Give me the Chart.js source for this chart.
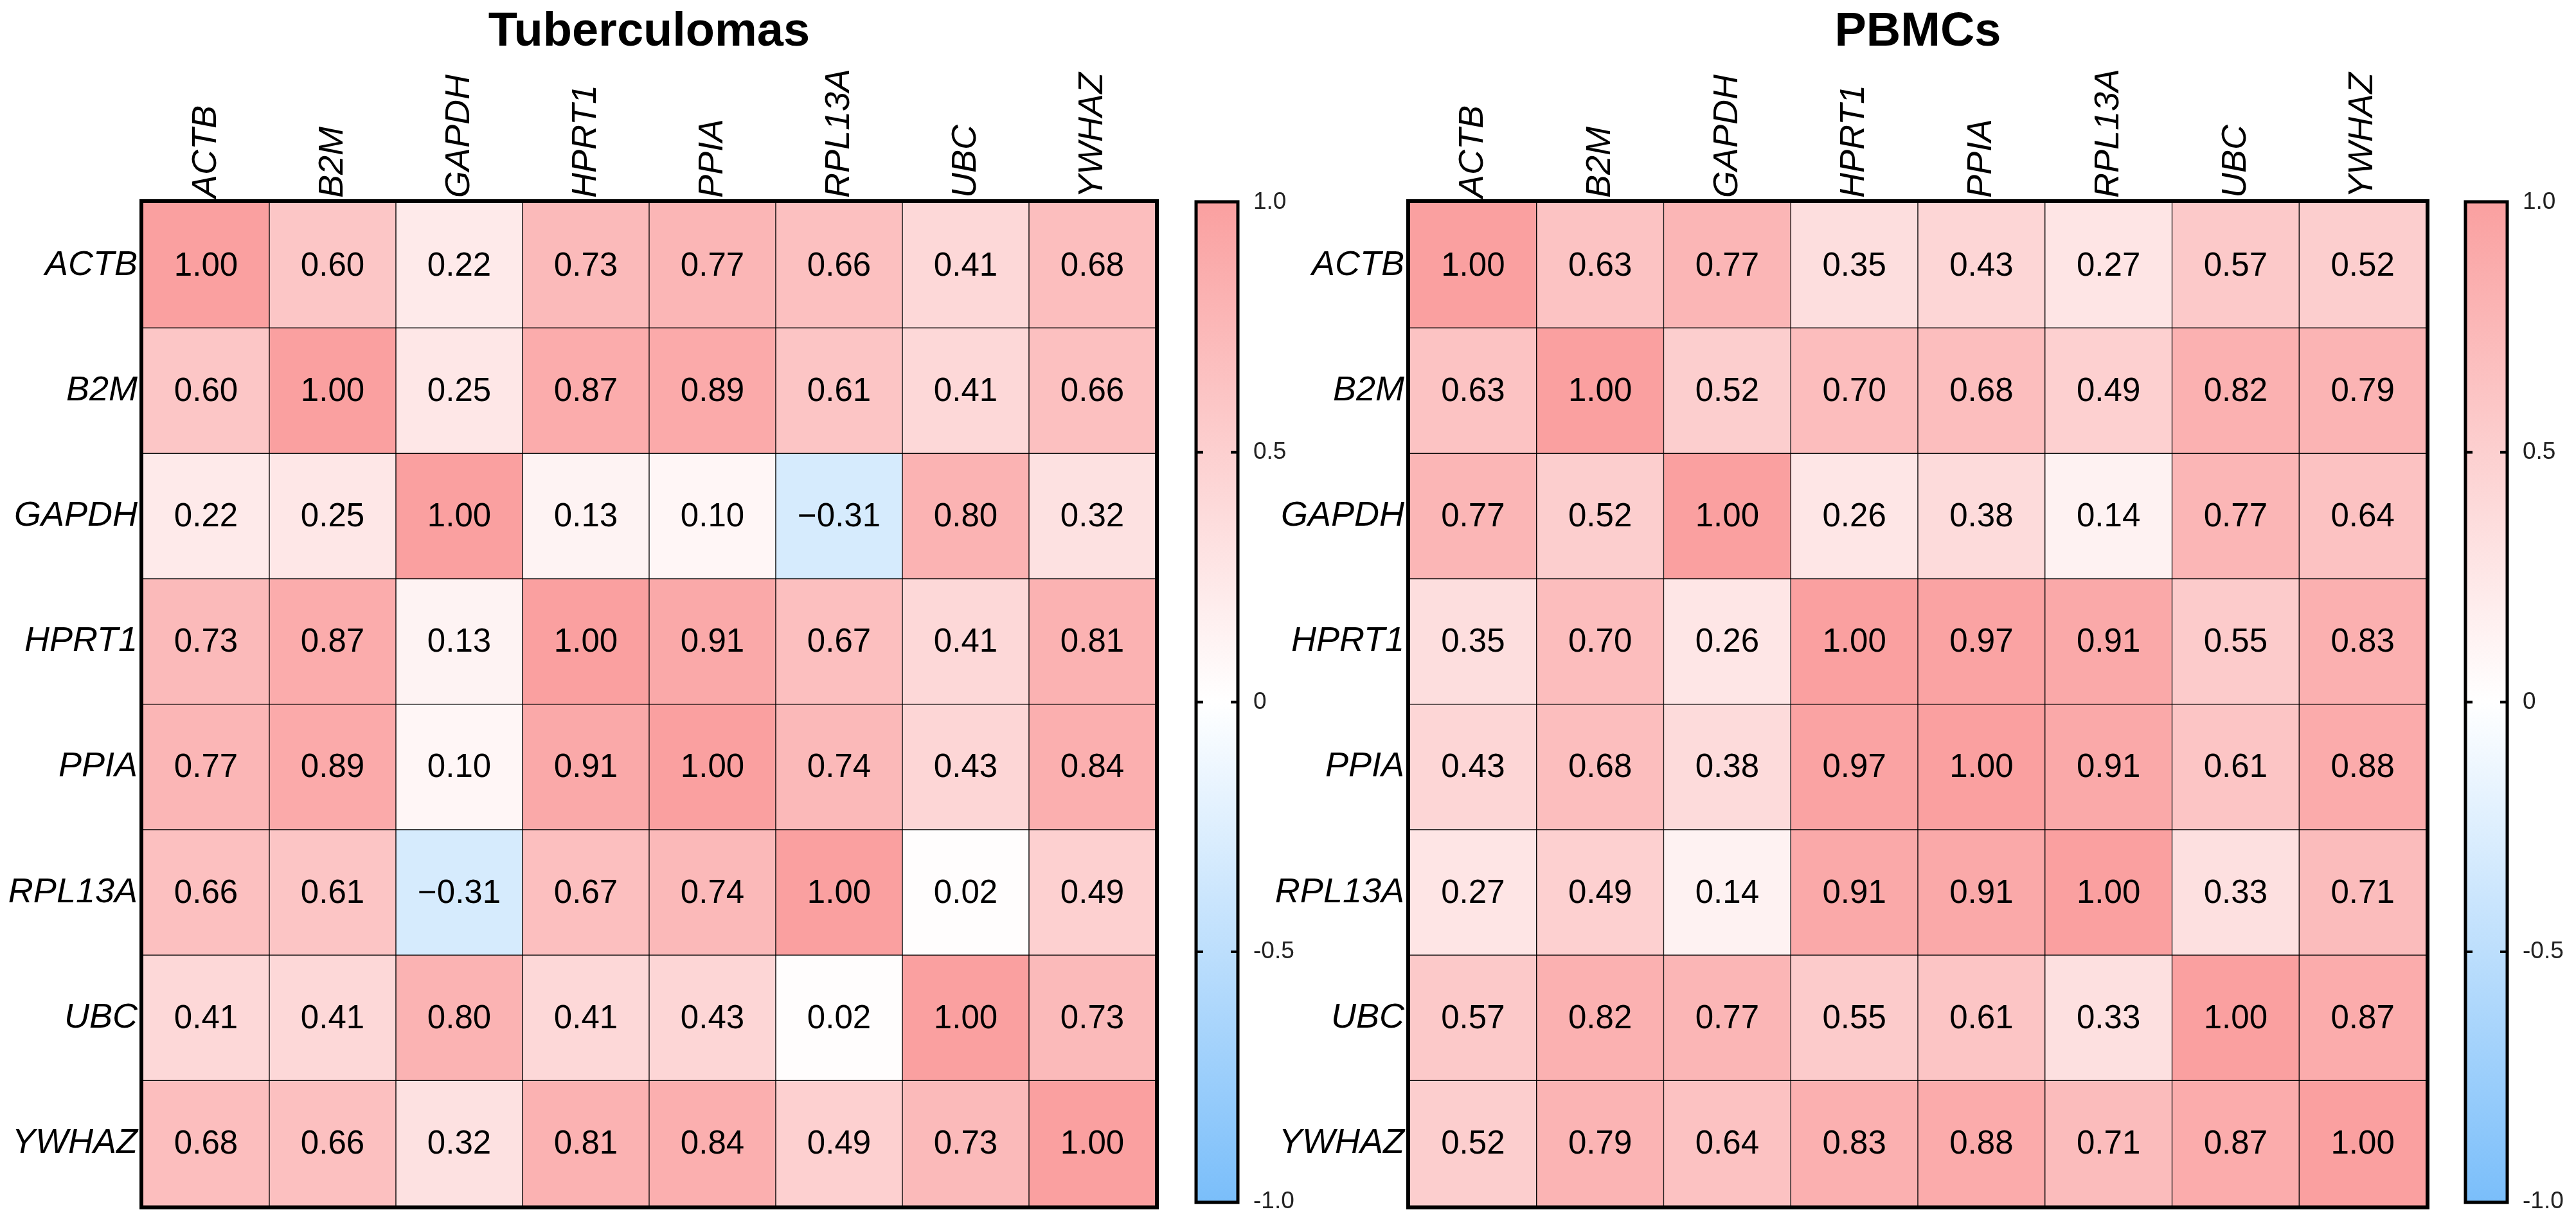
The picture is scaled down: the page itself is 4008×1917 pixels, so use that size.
<!DOCTYPE html>
<html>
<head>
<meta charset="utf-8">
<script src="https://cdn.jsdelivr.net/npm/chart.js@4.4.0/dist/chart.umd.min.js"></script>
<style>
html, body { margin: 0; padding: 0; background: #fff; width: 4008px; height: 1917px; overflow: hidden; }
.box { position: absolute; top: 0; height: 1917px; }
</style>
</head>
<body>
<div class="box" style="left:0;width:2020px"><canvas id="hm1"></canvas></div>
<div class="box" style="left:1971px;width:2026px"><canvas id="hm2"></canvas></div>
<div class="box" style="left:1857px;width:200px"><canvas id="cb1"></canvas></div>
<div class="box" style="left:3832px;width:176px"><canvas id="cb2"></canvas></div>
<script>
const genes = ['ACTB', 'B2M', 'GAPDH', 'HPRT1', 'PPIA', 'RPL13A', 'UBC', 'YWHAZ'];

const tuberculomaValues = [
    [1.00, 0.60, 0.22, 0.73, 0.77, 0.66, 0.41, 0.68],
    [0.60, 1.00, 0.25, 0.87, 0.89, 0.61, 0.41, 0.66],
    [0.22, 0.25, 1.00, 0.13, 0.10, -0.31, 0.80, 0.32],
    [0.73, 0.87, 0.13, 1.00, 0.91, 0.67, 0.41, 0.81],
    [0.77, 0.89, 0.10, 0.91, 1.00, 0.74, 0.43, 0.84],
    [0.66, 0.61, -0.31, 0.67, 0.74, 1.00, 0.02, 0.49],
    [0.41, 0.41, 0.80, 0.41, 0.43, 0.02, 1.00, 0.73],
    [0.68, 0.66, 0.32, 0.81, 0.84, 0.49, 0.73, 1.00]
];

const pbmcValues = [
    [1.00, 0.63, 0.77, 0.35, 0.43, 0.27, 0.57, 0.52],
    [0.63, 1.00, 0.52, 0.70, 0.68, 0.49, 0.82, 0.79],
    [0.77, 0.52, 1.00, 0.26, 0.38, 0.14, 0.77, 0.64],
    [0.35, 0.70, 0.26, 1.00, 0.97, 0.91, 0.55, 0.83],
    [0.43, 0.68, 0.38, 0.97, 1.00, 0.91, 0.61, 0.88],
    [0.27, 0.49, 0.14, 0.91, 0.91, 1.00, 0.33, 0.71],
    [0.57, 0.82, 0.77, 0.55, 0.61, 0.33, 1.00, 0.87],
    [0.52, 0.79, 0.64, 0.83, 0.88, 0.71, 0.87, 1.00]
];

const colorbarTicks = [-1, -0.5, 0, 0.5, 1];

const FONT = '"Liberation Sans", Arial, Helvetica, sans-serif';
const RED = [250, 160, 160];
const BLUE = [122, 190, 250];

function cellColor(v) {
    const end = v >= 0 ? RED : BLUE;
    const t = Math.min(1, Math.abs(v));
    const c = end.map(e => Math.round(255 + (e - 255) * t));
    return `rgb(${c[0]},${c[1]},${c[2]})`;
}

function fmt(v) {
    return v < 0 ? '\u2212' + Math.abs(v).toFixed(2) : v.toFixed(2);
}

// values in the cells + thick frame
const cellText = {
    id: 'cellText',
    afterDatasetsDraw(chart) {
        const ctx = chart.ctx;
        ctx.save();
        ctx.font = `51px ${FONT}`;
        ctx.fillStyle = '#000';
        ctx.textAlign = 'center';
        ctx.textBaseline = 'middle';
        chart.data.datasets.forEach((ds, i) => {
            chart.getDatasetMeta(i).data.forEach((el, j) => {
                const p = el.getCenterPoint();
                ctx.fillText(fmt(ds.values[j]), p.x, p.y + 2);
            });
        });
        const a = chart.chartArea;
        ctx.lineWidth = 6;
        ctx.strokeStyle = '#000';
        ctx.strokeRect(a.left - 2, a.top - 2, a.right - a.left + 4, a.bottom - a.top + 4);
        ctx.restore();
    }
};

function heatmap(id, title, values) {
    const labelFont = { family: FONT, size: 54, style: 'italic' };
    new Chart(document.getElementById(id), {
        type: 'bar',
        data: {
            labels: genes,
            datasets: values.map((row, r) => ({
                data: row.map(() => [r, r + 1]),
                values: row,
                backgroundColor: row.map(cellColor),
                borderColor: '#000',
                borderWidth: 1,
                borderSkipped: false,
                grouped: false,
                barPercentage: 1,
                categoryPercentage: 1
            }))
        },
        options: {
            responsive: true,
            maintainAspectRatio: false,
            animation: false,
            devicePixelRatio: 1,
            layout: { padding: { top: 0, bottom: 27, left: 0, right: 0 } },
            plugins: {
                legend: { display: false },
                tooltip: { enabled: false },
                title: {
                    display: true,
                    text: title,
                    color: '#000',
                    font: { family: FONT, size: 74, weight: 'bold' },
                    padding: { top: 6, bottom: 0 }
                }
            },
            scales: {
                x: {
                    position: 'top',
                    grid: { display: false, drawTicks: false },
                    border: { display: false },
                    ticks: {
                        font: labelFont, color: '#000', minRotation: 90, maxRotation: 90,
                        padding: 7, labelOffset: 65, autoSkip: false
                    },
                    afterFit(s) { s.height = 315 - 6 - 74 * 1.2; }
                },
                y: {
                    type: 'linear',
                    min: 0,
                    max: 8,
                    reverse: true,
                    grid: { display: false, drawTicks: false },
                    border: { display: false },
                    afterBuildTicks(s) { s.ticks = genes.map((g, i) => ({ value: i + 0.5 })); },
                    ticks: { font: labelFont, color: '#000', padding: 8, autoSkip: false, callback: v => genes[Math.floor(v)] },
                    afterFit(s) { s.width = 222; }
                },
                // empty right axis so the title centres over the matrix
                yRight: {
                    type: 'linear',
                    position: 'right',
                    grid: { display: false, drawTicks: false },
                    border: { display: false },
                    ticks: { display: false },
                    afterFit(s) { s.width = 222; }
                }
            }
        },
        plugins: [cellText]
    });
}

const barFrame = {
    id: 'barFrame',
    afterDatasetsDraw(chart) {
        const ctx = chart.ctx, a = chart.chartArea, ys = chart.scales.y;
        ctx.save();
        ctx.strokeStyle = '#000';
        ctx.lineWidth = 4;
        [0.5, 0, -0.5].forEach(v => {
            const y = ys.getPixelForValue(v);
            ctx.beginPath();
            ctx.moveTo(a.left, y); ctx.lineTo(a.left + 10, y);
            ctx.moveTo(a.right - 10, y); ctx.lineTo(a.right, y);
            ctx.stroke();
        });
        ctx.lineWidth = 5;
        ctx.strokeRect(a.left - 1, a.top - 1, a.right - a.left + 2, a.bottom - a.top + 2);
        ctx.restore();
    }
};

function colorbar(id, boxWidth) {
    new Chart(document.getElementById(id), {
        type: 'bar',
        data: {
            labels: [''],
            datasets: [{
                data: [[colorbarTicks[0], colorbarTicks[colorbarTicks.length - 1]]],
                backgroundColor: c => {
                    const a = c.chart.chartArea;
                    if (!a) return '#fff';
                    const g = c.chart.ctx.createLinearGradient(0, a.top, 0, a.bottom);
                    g.addColorStop(0, cellColor(1));
                    g.addColorStop(0.5, '#fff');
                    g.addColorStop(1, cellColor(-1));
                    return g;
                },
                borderWidth: 0,
                barPercentage: 1,
                categoryPercentage: 1
            }]
        },
        options: {
            responsive: true,
            maintainAspectRatio: false,
            animation: false,
            devicePixelRatio: 1,
            layout: { padding: { top: 315, bottom: 27, left: 5, right: 0 } },
            plugins: { legend: { display: false }, tooltip: { enabled: false } },
            scales: {
                x: { display: false },
                y: {
                    position: 'right',
                    min: -1,
                    max: 1,
                    grid: { display: false, drawTicks: false },
                    border: { display: false },
                    afterBuildTicks(s) { s.ticks = colorbarTicks.map(v => ({ value: v })); },
                    ticks: {
                        font: { family: FONT, size: 37 },
                        color: '#222',
                        padding: 25,
                        callback: v => v === 0 ? '0' : v.toFixed(1)
                    },
                    afterFit(s) { s.width = boxWidth - 5 - 63; }
                }
            }
        },
        plugins: [barFrame]
    });
}

heatmap('hm1', 'Tuberculomas', tuberculomaValues);
heatmap('hm2', 'PBMCs', pbmcValues);
colorbar('cb1', 200);
colorbar('cb2', 176);
</script>
</body>
</html>
